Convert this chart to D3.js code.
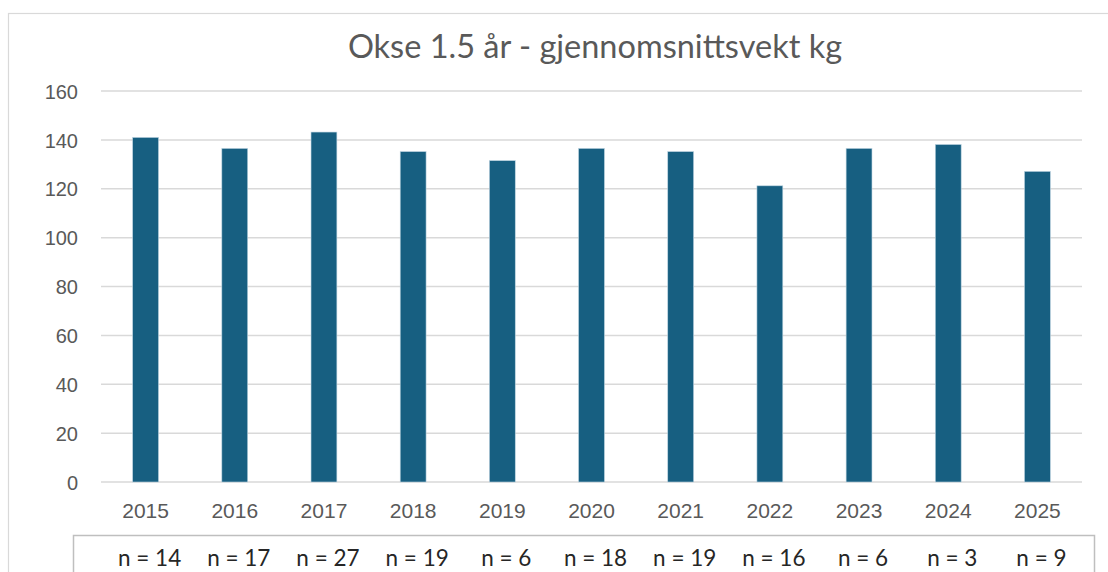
<!DOCTYPE html>
<html>
<head>
<meta charset="utf-8">
<script src="https://cdn.jsdelivr.net/npm/d3@7"></script>
<style>
  body { margin: 0; background: #fff; }
  svg { display: block; }
</style>
</head>
<body>
<div id="chart"></div>
<script>
// Data
var years = ["2015", "2016", "2017", "2018", "2019", "2020", "2021", "2022", "2023", "2024", "2025"];
var weights = [141, 136.5, 143.2, 135.2, 131.5, 136.5, 135.2, 121.2, 136.5, 138.1, 127.1];
var counts = [14, 17, 27, 19, 6, 18, 19, 16, 6, 3, 9];
var yTicks = [0, 20, 40, 60, 80, 100, 120, 140, 160];
var title = "Okse 1.5 år - gjennomsnittsvekt kg";

var width = 1108, height = 572;
var plot = { left: 101, right: 1082, top: 91, bottom: 482 };

var svg = d3.select("#chart").append("svg")
    .attr("width", width)
    .attr("height", height);

// outer chart frame
svg.append("rect")
    .attr("x", 8.5).attr("y", 13.5)
    .attr("width", 1120).attr("height", 600)
    .attr("fill", "#fff")
    .attr("stroke", "#d9d9d9")
    .attr("stroke-width", 1.2);

svg.append("text")
    .attr("x", 595)
    .attr("y", 58)
    .attr("text-anchor", "middle")
    .style("font-family", "Lato, 'Open Sans', sans-serif")
    .style("font-size", "32.5px")
    .style("fill", "#595959")
    .text(title);

var x = d3.scaleBand()
    .domain(years)
    .range([plot.left, plot.right])
    .paddingInner(0.71)
    .paddingOuter(0.355);

var y = d3.scaleLinear()
    .domain([0, 160])
    .range([plot.bottom, plot.top]);

// gridlines
svg.append("g")
    .selectAll("line")
    .data(yTicks)
    .enter().append("line")
    .attr("x1", plot.left)
    .attr("x2", plot.right)
    .attr("y1", function(d) { return y(d); })
    .attr("y2", function(d) { return y(d); })
    .attr("stroke", "#d9d9d9")
    .attr("stroke-width", 1.5);

// y axis labels
var yAxis = d3.axisLeft(y).tickValues(yTicks).tickSize(0).tickPadding(23);
var yg = svg.append("g")
    .attr("transform", "translate(" + plot.left + ",0)")
    .call(yAxis);
yg.select(".domain").remove();
yg.selectAll("text")
    .attr("dy", "0.36em")
    .style("font-family", "'Liberation Sans', Arial, sans-serif")
    .style("font-size", "20px")
    .style("fill", "#595959");

// bars
svg.append("g")
    .selectAll("rect")
    .data(weights)
    .enter().append("rect")
    .attr("x", function(d, i) { return x(years[i]); })
    .attr("width", x.bandwidth())
    .attr("y", function(d) { return y(d); })
    .attr("height", function(d) { return y(0) - y(d); })
    .attr("fill", "#175f81")
    .attr("stroke", "#bcd3e0")
    .attr("stroke-width", 0.6);

// x axis labels
var xAxis = d3.axisBottom(x).tickSize(0).tickPadding(21);
var xg = svg.append("g")
    .attr("transform", "translate(0," + plot.bottom + ")")
    .call(xAxis);
xg.select(".domain").remove();
xg.selectAll("text")
    .style("font-family", "'Liberation Sans', Arial, sans-serif")
    .style("font-size", "21px")
    .style("fill", "#595959");

// count table
svg.append("rect")
    .attr("x", 73.5).attr("y", 535.5)
    .attr("width", 1021).attr("height", 60)
    .attr("fill", "none")
    .attr("stroke", "#bfbfbf")
    .attr("stroke-width", 1.5);

svg.append("g")
    .selectAll("text")
    .data(counts)
    .enter().append("text")
    .attr("x", function(d, i) { return x(years[i]) + x.bandwidth() / 2 + 4; })
    .attr("y", 566)
    .attr("text-anchor", "middle")
    .style("font-family", "Lato, 'Open Sans', sans-serif")
    .style("font-size", "22.5px")
    .style("fill", "#262626")
    .text(function(d) { return "n = " + d; });
</script>
</body>
</html>
